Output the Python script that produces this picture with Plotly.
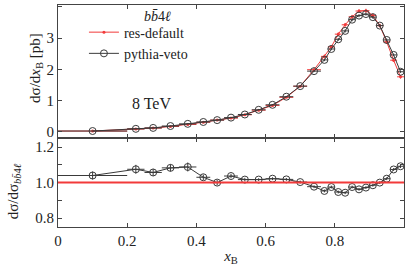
import plotly.graph_objects as go

# bin centres and half-widths of x_B
x_b = [0.1, 0.225, 0.275, 0.325, 0.375, 0.42, 0.46, 0.50, 0.54, 0.58, 0.62, 0.66, 0.70,
       0.74, 0.77, 0.79, 0.81, 0.83, 0.85, 0.87, 0.89, 0.91, 0.93, 0.95, 0.97, 0.99]
x_half = [0.1, 0.025, 0.025, 0.025, 0.025, 0.02, 0.02, 0.02, 0.02, 0.02, 0.02, 0.02, 0.02,
          0.02, 0.01, 0.01, 0.01, 0.01, 0.01, 0.01, 0.01, 0.01, 0.01, 0.01, 0.01, 0.01]

# pythia-veto (black) dsigma/dx_B [pb]
pythia_veto = [0.02, 0.09, 0.12, 0.18, 0.25, 0.31, 0.37, 0.45, 0.55, 0.70, 0.86, 1.12, 1.46,
               1.94, 2.30, 2.65, 2.96, 3.23, 3.59, 3.72, 3.77, 3.67, 3.40, 2.94, 2.46, 1.92]
pythia_err = [0.003, 0.005, 0.005, 0.006, 0.007, 0.008, 0.008, 0.009, 0.01, 0.012, 0.014, 0.016, 0.02,
              0.03, 0.04, 0.04, 0.045, 0.05, 0.05, 0.05, 0.05, 0.05, 0.05, 0.045, 0.04, 0.035]

# res-default (red) dsigma/dx_B [pb]
res_default = [0.019, 0.084, 0.114, 0.166, 0.230, 0.301, 0.370, 0.434, 0.541, 0.688, 0.841, 1.10, 1.456,
               1.986, 2.413, 2.718, 3.126, 3.425, 3.682, 3.867, 3.879, 3.726, 3.40, 2.877, 2.291, 1.758]
res_err = [0.003, 0.005, 0.005, 0.006, 0.007, 0.008, 0.008, 0.009, 0.01, 0.012, 0.014, 0.016, 0.02,
           0.04, 0.06, 0.06, 0.06, 0.06, 0.06, 0.06, 0.06, 0.06, 0.06, 0.06, 0.06, 0.06]

# ratio pythia-veto / res-default
ratio = [1.04, 1.075, 1.057, 1.083, 1.088, 1.03, 1.0, 1.037, 1.017, 1.017, 1.022, 1.018, 1.003,
         0.977, 0.953, 0.975, 0.947, 0.943, 0.975, 0.962, 0.972, 0.985, 1.0, 1.022, 1.074, 1.092]
ratio_err = [0.022, 0.025, 0.02, 0.02, 0.025, 0.015, 0.015, 0.012, 0.01, 0.008, 0.008, 0.008, 0.008,
             0.008, 0.008, 0.008, 0.008, 0.008, 0.008, 0.008, 0.008, 0.008, 0.008, 0.008, 0.008, 0.01]
ratio_reference = 1.0

x_ticks = [0, 0.2, 0.4, 0.6, 0.8, 1]
x_ticktext = ["0", "0.2", "0.4", "0.6", "0.8", "1"]
y_top_ticks = [0, 1, 2, 3, 4]
y_bot_ticks = [0.8, 0.9, 1.0, 1.1, 1.2]
y_bot_ticktext = ["0.8", " ", "1.0", " ", "1.2"]

FONT = "Liberation Serif, DejaVu Serif, serif"
RED = "#f23a3a"
BLACK = "#3a3a3a"
AX = "#444444"

fig = go.Figure()

fig.add_trace(go.Scatter(
    x=x_b, y=res_default, mode="lines+markers", name="res-default",
    line=dict(color=RED, width=1), marker=dict(color=RED, size=3),
    error_x=dict(type="data", array=x_half, color=RED, thickness=1, width=0),
    error_y=dict(type="data", array=res_err, color=RED, thickness=1, width=0),
    xaxis="x", yaxis="y"))

fig.add_trace(go.Scatter(
    x=x_b, y=pythia_veto, mode="lines+markers", name="pythia-veto",
    line=dict(color=BLACK, width=1),
    marker=dict(symbol="circle-open", color=BLACK, size=7, line=dict(width=1)),
    error_x=dict(type="data", array=x_half, color=BLACK, thickness=1, width=0),
    error_y=dict(type="data", array=pythia_err, color=BLACK, thickness=1, width=0),
    xaxis="x", yaxis="y"))

fig.add_trace(go.Scatter(
    x=x_b, y=ratio, mode="lines+markers", name="ratio", showlegend=False,
    line=dict(color=BLACK, width=1),
    marker=dict(symbol="circle-open", color=BLACK, size=7, line=dict(width=1)),
    error_x=dict(type="data", array=x_half, color=BLACK, thickness=1, width=0),
    error_y=dict(type="data", array=ratio_err, color=BLACK, thickness=1, width=0),
    xaxis="x2", yaxis="y2"))

fig.add_shape(type="line", xref="x2 domain", yref="y2", x0=0, x1=1,
              y0=ratio_reference, y1=ratio_reference, line=dict(color=RED, width=2))

axis_common = dict(showline=True, linecolor=AX, linewidth=1, mirror="allticks",
                   ticks="inside", ticklen=4, tickcolor=AX, showgrid=False, zeroline=False,
                   tickfont=dict(family=FONT, size=15, color="#222"))

fig.update_layout(
    width=407, height=266,
    margin=dict(l=58, r=3, t=5, b=39, autoexpand=False),
    paper_bgcolor="white", plot_bgcolor="white",
    font=dict(family=FONT, size=14, color="#222"),
    xaxis=dict(domain=[0, 1], range=[0, 1], anchor="y", tickvals=x_ticks,
               showticklabels=False, **axis_common),
    xaxis2=dict(domain=[0, 1], range=[0, 1], anchor="y2", matches="x", tickvals=x_ticks,
                ticktext=x_ticktext,
                title=dict(text="<i>x</i><sub>B</sub>", font=dict(family=FONT, size=15), standoff=4),
                **axis_common),
    yaxis=dict(domain=[0.4, 1], range=[-0.21, 4.06], anchor="x", tickvals=y_top_ticks,
               **axis_common),
    yaxis2=dict(domain=[0, 0.4], range=[0.75, 1.25], anchor="x2", tickvals=y_bot_ticks,
                ticktext=y_bot_ticktext, **axis_common),
    legend=dict(x=0.075, y=0.948, xanchor="left", yanchor="top", bgcolor="rgba(0,0,0,0)",
                font=dict(family=FONT, size=14), tracegroupgap=0, itemwidth=30),
    annotations=[
        dict(text="<i>bb̄</i>4<i>ℓ</i>", xref="paper", yref="paper", x=0.289, y=0.948,
             yanchor="middle", showarrow=False, font=dict(family=FONT, size=14), xanchor="center"),
        dict(text="8 TeV", xref="x", yref="y", x=0.27, y=0.90, showarrow=False,
             font=dict(family=FONT, size=16), xanchor="center"),
        dict(text="dσ/d<i>x</i><sub>B</sub> [pb]", xref="paper", yref="paper", x=-0.064, y=0.716,
             xanchor="center", yanchor="middle", textangle=-90, showarrow=False,
             font=dict(family=FONT, size=15)),
        dict(text="dσ/dσ<sub><i>bb̄</i>4<i>ℓ</i></sub>", xref="paper", yref="paper", x=-0.125, y=0.16,
             xanchor="center", yanchor="middle", textangle=-90, showarrow=False,
             font=dict(family=FONT, size=15)),
    ],
)

fig.write_html("out.html", config={"displayModeBar": False},
               post_script="document.body.style.margin='0';document.body.style.overflow='hidden';")
